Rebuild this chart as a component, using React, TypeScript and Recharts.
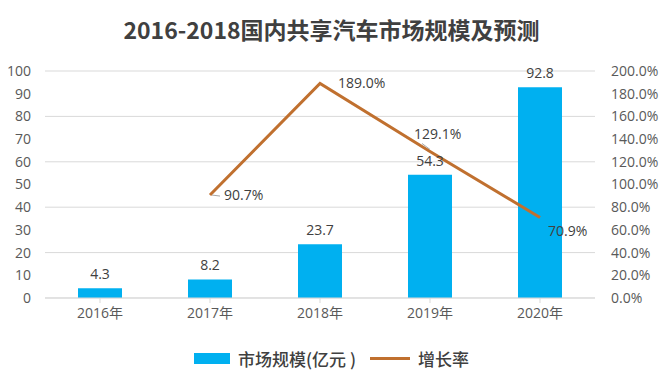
import React from 'react';
import { ComposedChart, Bar, Line, XAxis, YAxis, CartesianGrid, LabelList } from 'recharts';

const years = ['2016年', '2017年', '2018年', '2019年', '2020年'];
const marketSize = [4.3, 8.2, 23.7, 54.3, 92.8];
const growthRate = [null, 90.7, 189.0, 129.1, 70.9];
const leftTicks = [0, 10, 20, 30, 40, 50, 60, 70, 80, 90, 100];
const rightTicks = [0, 20, 40, 60, 80, 100, 120, 140, 160, 180, 200];

const FONT = '"Open Sans", "Noto Sans CJK SC", sans-serif';
const CJK = '"Noto Sans CJK SC", sans-serif';
const BLUE = '#00b0f0';
const ORANGE = '#c0702f';
const TEXT = '#404040';

// label placement for the growth line (dx, dy from the point)
const rateLabelOffsets = [
  [0, 0],
  [14, 5],
  [18, 5],
  [-16, -12],
  [8, 18],
];

const data = years.map((y, i) => ({ year: y, size: marketSize[i], rate: growthRate[i] }));

const RateLabel = (props: any) => {
  const { x, y, value, index } = props;
  if (value == null) return null;
  const [dx, dy] = rateLabelOffsets[index];
  return (
    <g>
      {index === 1 && <line x1={x + 2} y1={y} x2={x + 10} y2={y + 1} stroke="#a6a6a6" strokeWidth={1} />}
      {index === 3 && <line x1={x} y1={y - 2} x2={x - 8} y2={y - 8} stroke="#a6a6a6" strokeWidth={1} />}
      <text x={x + dx} y={y + dy} fill={TEXT} fontSize={14} fontFamily={FONT} textAnchor="start">
        {value.toFixed(1)}%
      </text>
    </g>
  );
};

export default function App() {
  return (
    <div style={{ position: 'absolute', left: 0, top: 0, width: 663, height: 382, background: '#fff' }}>
      <div
        style={{
          position: 'absolute',
          top: 14,
          left: 0,
          width: 663,
          textAlign: 'center',
          fontFamily: CJK,
          fontWeight: 700,
          fontSize: 23,
          color: TEXT,
          lineHeight: '30px',
        }}
      >
        2016-2018国内共享汽车市场规模及预测
      </div>
      <ComposedChart width={663} height={382} data={data} margin={{ top: 71, right: 0, left: 0, bottom: 54 }} barCategoryGap="30%">
        <CartesianGrid stroke="#d9d9d9" vertical={false} yAxisId="left" />
        <XAxis
          dataKey="year"
          height={30}
          tick={{ fill: '#595959', fontSize: 14, fontFamily: FONT }}
          tickLine={{ stroke: '#d9d9d9' }}
          axisLine={{ stroke: '#d9d9d9' }}
          tickSize={5}
          tickMargin={5}
        />
        <YAxis
          yAxisId="left"
          domain={[0, 100]}
          ticks={leftTicks}
          width={45}
          axisLine={false}
          tickLine={false}
          tick={{ fill: '#595959', fontSize: 14, fontFamily: FONT }}
          tickMargin={8}
        />
        <YAxis
          yAxisId="right"
          orientation="right"
          domain={[0, 200]}
          ticks={rightTicks}
          width={68}
          axisLine={false}
          tickLine={false}
          tick={{ fill: '#595959', fontSize: 14, fontFamily: FONT }}
          tickFormatter={(v: number) => `${v.toFixed(1)}%`}
          tickMargin={10}
        />
        <Bar yAxisId="left" dataKey="size" fill={BLUE} isAnimationActive={false}>
          <LabelList dataKey="size" position="top" offset={9} fill={TEXT} fontSize={14} fontFamily={FONT} />
        </Bar>
        <Line
          yAxisId="right"
          dataKey="rate"
          stroke={ORANGE}
          strokeWidth={3}
          dot={false}
          activeDot={false}
          connectNulls={false}
          isAnimationActive={false}
        >
          <LabelList dataKey="rate" content={RateLabel} />
        </Line>
      </ComposedChart>
      <div
        style={{
          position: 'absolute',
          top: 346,
          left: 0,
          width: 663,
          display: 'flex',
          justifyContent: 'center',
          alignItems: 'center',
          fontFamily: CJK,
          fontWeight: 500,
          fontSize: 17,
          color: TEXT,
        }}
      >
        <span style={{ display: 'inline-block', width: 36, height: 11, background: BLUE, marginRight: 8 }} />
        <span style={{ marginRight: 14 }}>市场规模(亿元 )</span>
        <span style={{ display: 'inline-block', width: 40, height: 3, background: ORANGE, marginRight: 8 }} />
        <span>增长率</span>
      </div>
    </div>
  );
}
